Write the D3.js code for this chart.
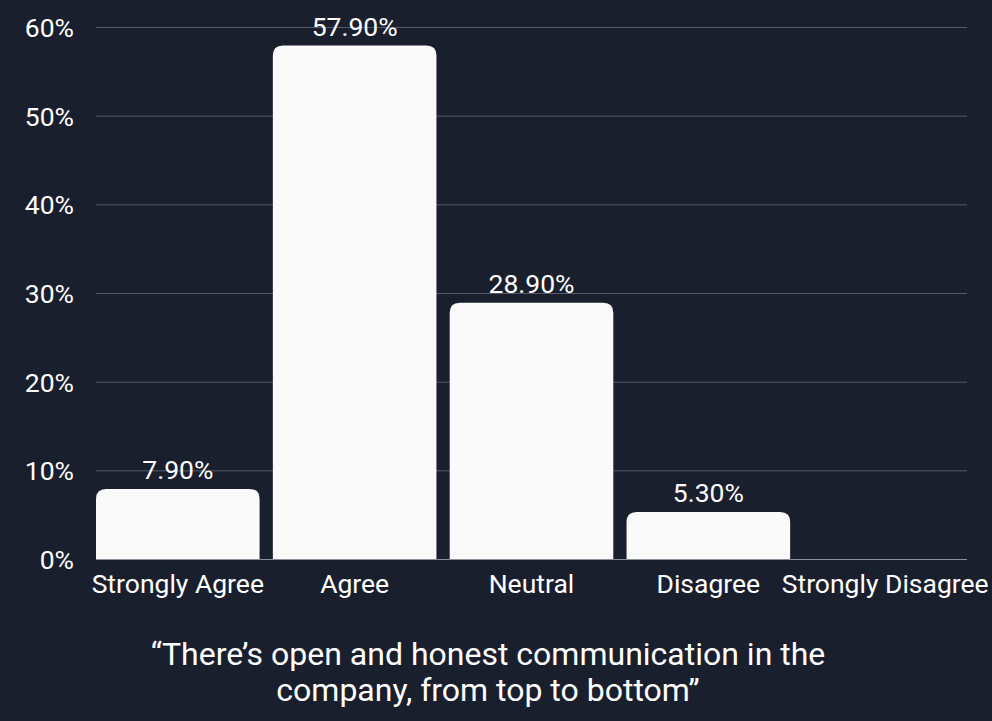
<!DOCTYPE html>
<html><head><meta charset="utf-8">
<script src="https://cdn.jsdelivr.net/npm/d3@7"></script>
<style>html,body{margin:0;padding:0;background:#1a1f2e;}svg{display:block;}</style>
</head><body>
<svg id="chart" width="992" height="721"></svg>
<script>
const categories = ["Strongly Agree", "Agree", "Neutral", "Disagree", "Strongly Disagree"];
const values = [7.9, 57.9, 28.9, 5.3, 0];
const valueLabels = ["7.90%", "57.90%", "28.90%", "5.30%", ""];
const yTicks = [0, 10, 20, 30, 40, 50, 60];
const titleLines = ["\u201CThere\u2019s open and honest communication in the", "company, from top to bottom\u201D"];

const W = 992, H = 721;
const svg = d3.select("#chart");
svg.append("rect").attr("width", W).attr("height", H).attr("fill", "#1a1f2e");

const x = d3.scaleBand().domain(categories).range([96, 967]).paddingInner(0.075).paddingOuter(0);
const y = d3.scaleLinear().domain([0, 60]).range([559, 27]);
const font = "Roboto, 'Noto Sans', sans-serif";
const fs = 26.5;

// gridlines
svg.append("g").selectAll("line").data(yTicks.filter(d => d > 0)).join("line")
  .attr("x1", 96).attr("x2", 967)
  .attr("y1", d => y(d) + 0.5).attr("y2", d => y(d) + 0.5)
  .attr("stroke", "#545a6b").attr("stroke-width", 1);

// y axis labels
const yAxis = d3.axisLeft(y).tickValues(yTicks).tickFormat(d => d + "%").tickSize(0).tickPadding(0);
const yg = svg.append("g").attr("transform", "translate(74,0)").call(yAxis);
yg.select(".domain").remove();
yg.selectAll("text").attr("fill", "#ffffff").attr("font-family", font).attr("font-size", fs).attr("dy", "0.36em");

// bars with rounded top corners
const r = 10;
svg.append("g").selectAll("path").data(categories.map((c, i) => ({c, v: values[i]})).filter(d => d.v > 0)).join("path")
  .attr("fill", "#fafafa")
  .attr("d", d => {
    const x0 = x(d.c), x1 = x0 + x.bandwidth(), yt = y(d.v), yb = y(0);
    const rr = Math.min(r, (yb - yt));
    return `M${x0},${yb}V${yt + rr}Q${x0},${yt} ${x0 + rr},${yt}H${x1 - rr}Q${x1},${yt} ${x1},${yt + rr}V${yb}Z`;
  });

// baseline
svg.append("line").attr("x1", 96).attr("x2", 967).attr("y1", 559.5).attr("y2", 559.5)
  .attr("stroke", "#8a8e9a").attr("stroke-width", 1);

// value labels
svg.append("g").selectAll("text").data(categories.map((c, i) => ({c, v: values[i], l: valueLabels[i]}))).join("text")
  .attr("x", d => x(d.c) + x.bandwidth() / 2)
  .attr("y", d => y(d.v) - 10)
  .attr("text-anchor", "middle").attr("fill", "#ffffff")
  .attr("font-family", font).attr("font-size", fs)
  .text(d => d.l);

// x axis labels
const xAxis = d3.axisBottom(x).tickSize(0).tickPadding(0);
const xg = svg.append("g").attr("transform", "translate(0,593)").call(xAxis);
xg.select(".domain").remove();
xg.selectAll("text").attr("fill", "#ffffff").attr("font-family", font).attr("font-size", fs).attr("dy", 0);

// title
svg.append("g").selectAll("text").data(titleLines).join("text")
  .attr("x", 488).attr("y", (d, i) => 665 + i * 36)
  .attr("text-anchor", "middle").attr("fill", "#ffffff")
  .attr("font-family", font).attr("font-size", 32)
  .text(d => d);
</script>
</body></html>
